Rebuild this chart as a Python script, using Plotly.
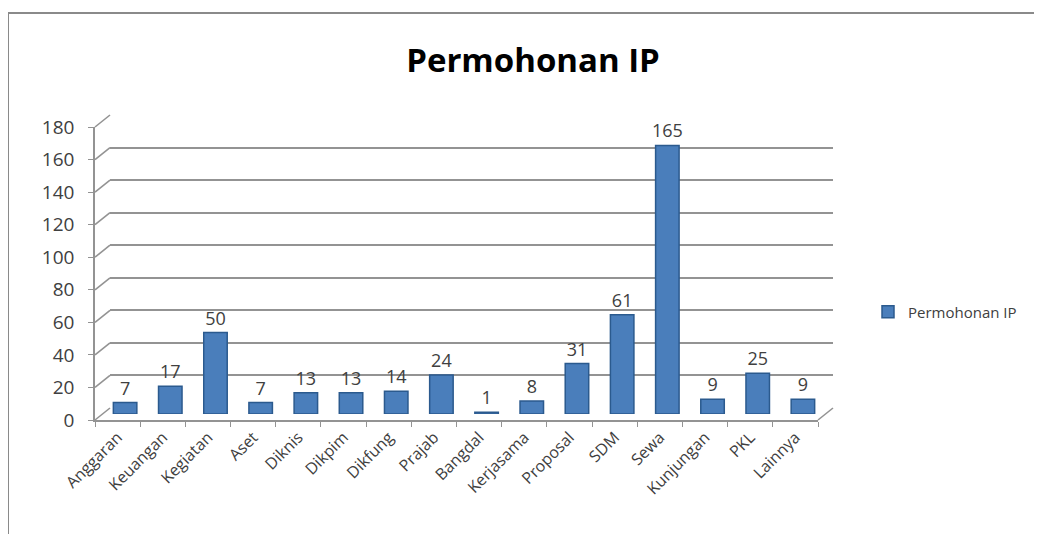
import plotly.graph_objects as go

categories = ["Anggaran", "Keuangan", "Kegiatan", "Aset", "Diknis", "Dikpim", "Dikfung",
              "Prajab", "Bangdal", "Kerjasama", "Proposal", "SDM", "Sewa", "Kunjungan",
              "PKL", "Lainnya"]
values = [7, 17, 50, 7, 13, 13, 14, 24, 1, 8, 31, 61, 165, 9, 25, 9]
series_name = "Permohonan IP"
title_text = "Permohonan IP"
y_ticks = [0, 20, 40, 60, 80, 100, 120, 140, 160, 180]

OFF = 8  # page body margin
SW, SH = 1042, 534
W, H = SW - OFF, SH - OFF
# screen-space layout targets
sx0, sx1, sy0, sy1 = 95, 833, 115, 420
L, R, T, B = sx0 - OFF, SW - sx1, sy0 - OFF, SH - sy1
pw, ph = W - L - R, H - T - B
dx, dy = 15, 12  # depth offset in px
fx = 1 - dx / pw
fy = 1 - dy / ph
FONT = "Open Sans"
GRID = "#939393"
TXT = "#404040"

fig = go.Figure()
fig.add_trace(go.Scatter(x=categories, y=values, mode="markers", marker=dict(opacity=0),
                         xaxis="x", yaxis="y", showlegend=False, hoverinfo="skip"))
fig.add_trace(go.Bar(x=categories, y=values, name=series_name, xaxis="x3", yaxis="y3",
                     marker=dict(color="#4a7ebb", line=dict(color="#2b5a8e", width=1.5)),
                     width=0.52, text=[str(v) for v in values], textposition="outside",
                     constraintext="none",
                     textfont=dict(size=18, color=TXT, family=FONT), cliponaxis=False))
fig.add_trace(go.Scatter(x=[0, 1], y=[0, 0], mode="markers", marker=dict(opacity=0),
                         xaxis="x2", yaxis="y2", showlegend=False, hoverinfo="skip"))

front_top = (ph - dy) / ph

fig.update_layout(
    width=W, height=H, margin=dict(l=L, r=R, t=T, b=B, autoexpand=False),
    paper_bgcolor="white", plot_bgcolor="rgba(0,0,0,0)",
    title=dict(text="<b>" + title_text + "</b>", x=(533 - OFF) / W, xanchor="center",
               y=1 - (60 - OFF) / H, yanchor="middle",
               font=dict(family=FONT, size=33, color="#000000")),
    xaxis=dict(domain=[0, fx], type="category", range=[-0.5, len(categories) - 0.5],
               showline=True, linecolor=GRID, linewidth=1.5, ticks="outside", tickson="boundaries",
               ticklen=5, tickcolor=GRID, tickangle=-45, showgrid=False, automargin=False,
               tickfont=dict(family=FONT, size=16, color=TXT)),
    yaxis=dict(domain=[0, front_top],
               range=[0, 180], tickvals=y_ticks, showline=True, linecolor=GRID, linewidth=1.5,
               ticks="outside", ticklen=5, tickcolor=GRID, showgrid=False, zeroline=False,
               automargin=False, ticklabelstandoff=10,
               tickfont=dict(family=FONT, size=19, color=TXT)),
    xaxis2=dict(domain=[1 - fx, 1], range=[0, 1], visible=False, anchor="y2"),
    yaxis2=dict(domain=[1 - fy, 1], range=[0, 180], tickvals=y_ticks, showticklabels=False,
                showgrid=True, gridcolor=GRID, gridwidth=1.6, zeroline=False, anchor="x2",
                ticks=""),
    xaxis3=dict(domain=[(1 - fx) / 2, 1 - (1 - fx) / 2], type="category",
                range=[-0.5, len(categories) - 0.5], visible=False, anchor="y3"),
    yaxis3=dict(domain=[(1 - fy) / 2, 1 - (1 - fy) / 2], range=[0, 180], visible=False, anchor="x3"),
    legend=dict(xref="container", yref="container", x=(868 - OFF) / W, xanchor="left",
                y=1 - (312 - OFF) / H, yanchor="middle", itemwidth=30,
                font=dict(family=FONT, size=15, color=TXT), bgcolor="rgba(0,0,0,0)"),
    showlegend=True,
    bargap=0.5,
)

shapes = []
for v in y_ticks:
    yf = front_top * v / 180
    yb = (1 - fy) + fy * v / 180
    shapes.append(dict(type="line", xref="paper", yref="paper", x0=0, y0=yf, x1=1 - fx, y1=yb,
                       line=dict(color=GRID, width=1.6)))
shapes.append(dict(type="line", xref="paper", yref="paper", x0=fx, y0=0, x1=1, y1=1 - fy,
                   line=dict(color=GRID, width=1.6)))
# outer chart frame (screen x=8, y=13)
shapes.append(dict(type="rect", xref="paper", yref="paper",
                   x0=(8 - sx0) / pw, y0=-2, x1=3, y1=(sy1 - 13) / ph,
                   line=dict(color="#8a8a8a", width=2)))
fig.update_layout(shapes=shapes)

fig.write_html("out.html")
